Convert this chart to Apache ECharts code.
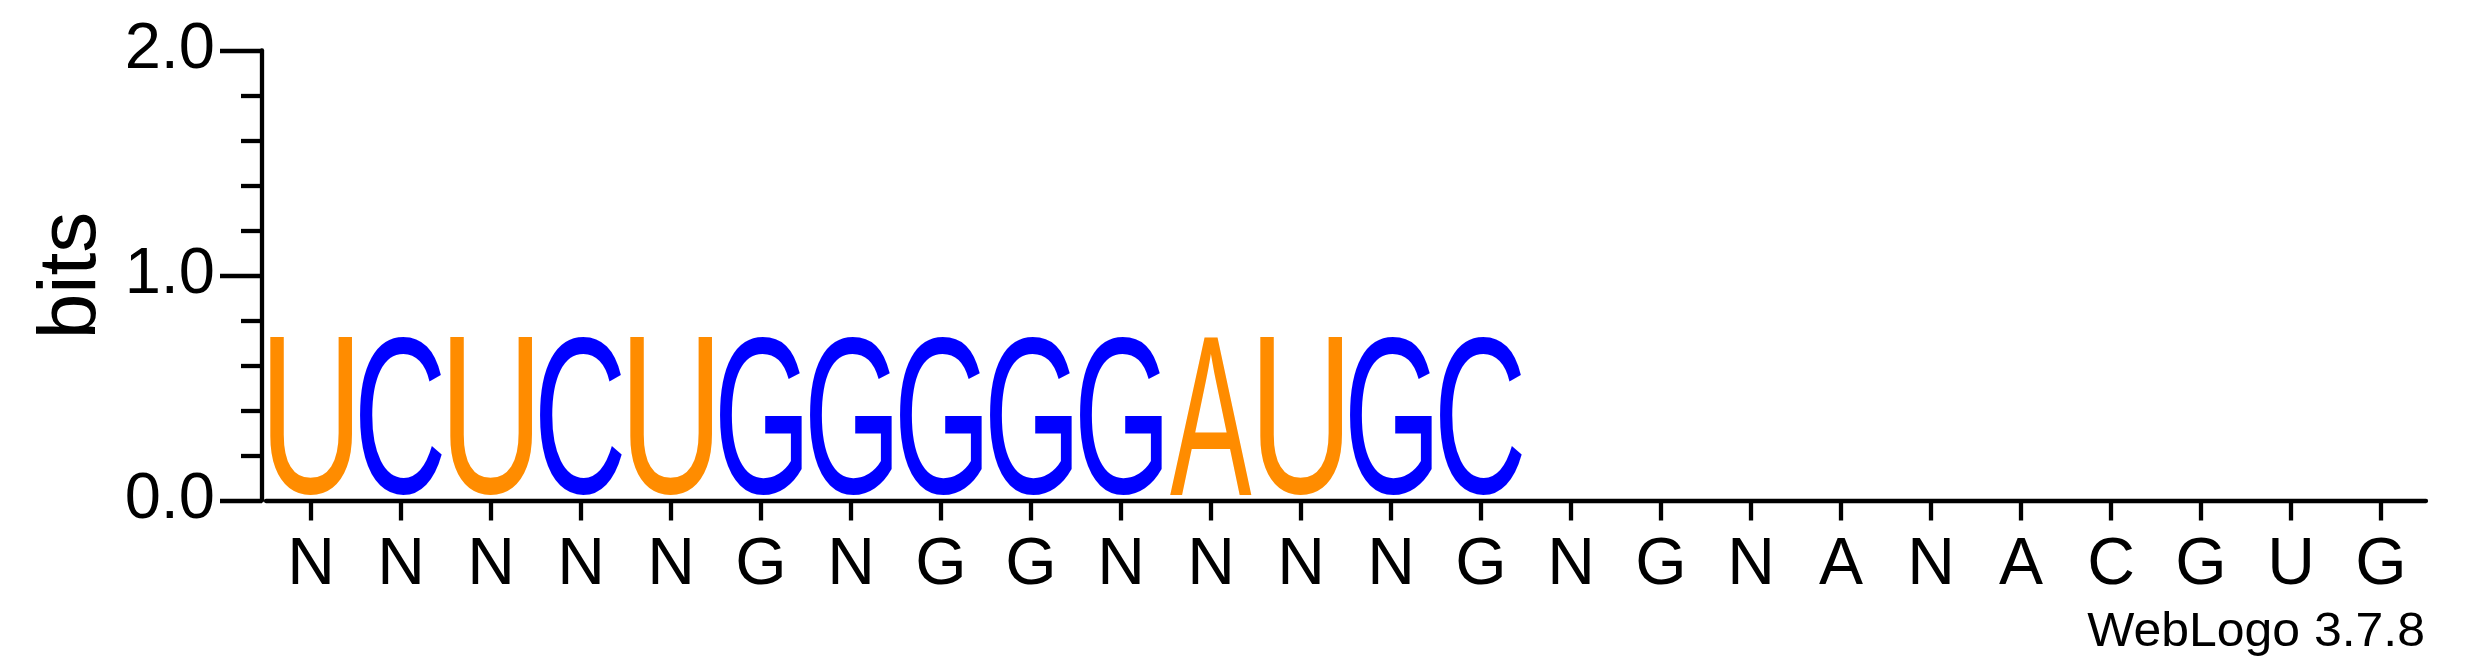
<!DOCTYPE html>
<html>
<head>
<meta charset="utf-8">
<script src="https://cdn.jsdelivr.net/npm/echarts@6/dist/echarts.min.js"></script>
<style>
  html, body { margin: 0; padding: 0; background: #fff; }
  #chart { width: 2475px; height: 667px; }
</style>
</head>
<body>
<div id="chart"></div>
<script>
// posiciones del logo (etiquetas del eje x)
var positions = ['N', 'N', 'N', 'N', 'N', 'G', 'N', 'G', 'G', 'N', 'N', 'N',
                 'N', 'G', 'N', 'G', 'N', 'A', 'N', 'A', 'C', 'G', 'U', 'G'];
// letra de cada pila y su altura en bits
var stackLetters = ['U', 'C', 'U', 'C', 'U', 'G', 'G', 'G', 'G', 'G', 'A', 'U',
                    'G', 'C', '', '', '', '', '', '', '', '', '', ''];
var stackBits = [0.725, 0.725, 0.725, 0.725, 0.725, 0.725, 0.725, 0.725, 0.725, 0.725, 0.725, 0.725,
                 0.725, 0.725, 0, 0, 0, 0, 0, 0, 0, 0, 0, 0];
var yTicks = [0, 1, 2];

var letterColors = { U: '#FF8C00', A: '#FF8C00', C: '#0000FF', G: '#0000FF' };
var FONT = '"Liberation Sans", Arial, Helvetica, sans-serif';
var GLYPH_FONT = '200px ' + FONT;

// medir la tinta real de cada letra para estirarla a su caja
var mctx = document.createElement('canvas').getContext('2d');
var glyphCache = {};
function glyphBox(letter) {
    if (glyphCache[letter]) return glyphCache[letter];
    mctx.font = GLYPH_FONT;
    mctx.textAlign = 'center';
    mctx.textBaseline = 'middle';
    var m = mctx.measureText(letter);
    glyphCache[letter] = {
        l: m.actualBoundingBoxLeft, r: m.actualBoundingBoxRight,
        a: m.actualBoundingBoxAscent, d: m.actualBoundingBoxDescent
    };
    return glyphCache[letter];
}

var chart = echarts.init(document.getElementById('chart'));

var option = {
    backgroundColor: '#fff',
    animation: false,
    grid: { left: 266, right: 49, top: 50.5, bottom: 166.5 },
    xAxis: {
        type: 'category',
        data: positions,
        axisLine: { show: true, onZero: false, lineStyle: { color: '#000', width: 4.3 } },
        axisTick: { show: true, alignWithLabel: true, interval: 0, length: 20, lineStyle: { color: '#000', width: 4.3 } },
        axisLabel: { interval: 0, color: '#000', fontSize: 66, fontFamily: FONT, margin: 32 },
        splitLine: { show: false }
    },
    yAxis: {
        type: 'value',
        min: yTicks[0],
        max: yTicks[yTicks.length - 1],
        interval: 1,
        offset: 4,
        name: 'bits',
        nameLocation: 'middle',
        nameRotate: 90,
        nameGap: 144,
        nameTextStyle: { color: '#000', fontSize: 82, fontFamily: FONT },
        axisLine: { show: true, lineStyle: { color: '#000', width: 4.3 } },
        axisTick: { show: true, length: 42, lineStyle: { color: '#000', width: 4.3 } },
        minorTick: { show: true, splitNumber: 5, length: 21, lineStyle: { color: '#000', width: 4.3 } },
        axisLabel: {
            color: '#000', fontSize: 65, fontFamily: FONT, margin: 47,
            formatter: function (v) { return v.toFixed(1); }
        },
        splitLine: { show: false },
        minorSplitLine: { show: false }
    },
    graphic: [{
        type: 'text',
        x: 2425,
        y: 632.7,
        scaleX: 1.04,
        style: {
            text: 'WebLogo 3.7.8',
            font: '48px ' + FONT,
            fill: '#000',
            align: 'right',
            verticalAlign: 'middle'
        }
    }],
    series: [{
        type: 'custom',
        data: stackBits.map(function (b, i) { return [i, b]; }),
        renderItem: function (params, api) {
            var letter = stackLetters[params.dataIndex];
            var bits = api.value(1);
            if (!letter || bits <= 0) return;
            var top = api.coord([api.value(0), bits]);
            var base = api.coord([api.value(0), 0]);
            var w = api.size([1, 0])[0] * 0.91;
            var x0 = base[0] - w / 2;
            var y0 = top[1];
            var y1 = base[1] - 4.8;
            var g = glyphBox(letter);
            var sx = w / (g.l + g.r);
            var sy = (y1 - y0) / (g.a + g.d);
            return {
                type: 'text',
                x: x0 + sx * g.l,
                y: y0 + sy * g.a,
                scaleX: sx,
                scaleY: sy,
                style: {
                    text: letter,
                    font: GLYPH_FONT,
                    fill: letterColors[letter],
                    align: 'center',
                    verticalAlign: 'middle'
                }
            };
        }
    }]
};

chart.setOption(option);
</script>
</body>
</html>
